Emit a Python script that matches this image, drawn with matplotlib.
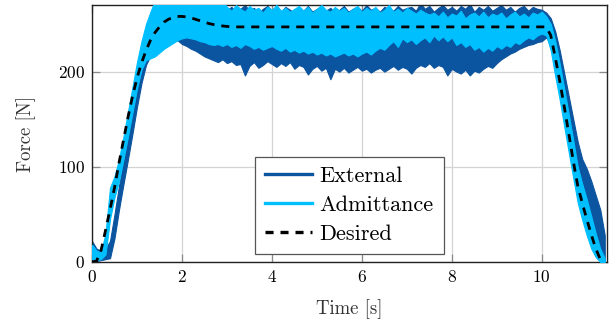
import numpy as np
import matplotlib
matplotlib.use("Agg")
import matplotlib.pyplot as plt
from matplotlib.lines import Line2D

plt.rcParams['font.family'] = 'serif'
plt.rcParams['font.serif'] = ['cmr10']
plt.rcParams['mathtext.fontset'] = 'cm'
plt.rcParams['axes.formatter.use_mathtext'] = True
plt.rcParams['lines.scale_dashes'] = False

# time grid (s), 0.0 .. 11.4 step 0.1
t = np.round(np.arange(0, 115) * 0.1, 2)

desired = [0, 1, 12, 33, 55, 78, 104, 128, 152, 174,
           193, 209, 222, 233, 241, 247, 252, 255, 257, 258,
           258, 257.5, 256.5, 255, 253.5, 252, 250.5, 249.5, 248.5, 248,
           247.5] + [247] * 71 + [238, 215, 190, 163, 135, 106, 80, 62, 45, 29, 14, 3, 0]

ext_lo = [4, 1, 2, 3, 4, 25, 55, 82, 108, 135,
          163, 188, 207, 217, 222, 226, 229, 231, 232, 233,
          229, 227, 224, 222, 219, 216, 214, 212, 210, 213,
          209, 211, 207, 208, 196, 206, 210, 204, 207, 211,
          208, 205, 209, 206, 210, 203, 207, 205, 197, 203,
          206, 201, 204, 192, 203, 200, 204, 199, 202, 205,
          201, 203, 199, 202, 204, 200, 203, 206, 202, 205,
          203, 198, 204, 207, 205, 209, 204, 207, 205, 196,
          203, 200, 198, 202, 196, 201, 199, 203, 206, 204,
          209, 213, 216, 219, 221, 224, 226, 228, 229, 231,
          232, 236, 228, 205, 180, 155, 128, 100, 78, 58,
          42, 28, 16, 6, 0]

ext_hi = [22, 14, 12, 14, 22, 50, 80, 106, 132, 158,
          185, 210, 230, 245, 256, 264] + [275] * 14 + \
         [265, 268, 263, 266, 270, 264, 267, 262, 266, 269,
          264, 267, 263, 268, 265, 262, 267, 264, 269, 263,
          266, 268, 264, 267, 262, 265, 269, 263, 266, 268,
          264, 270, 265, 267, 263, 268, 266, 264, 269, 265,
          267] + \
         [268, 264, 272, 266, 269, 263, 267, 270, 265, 268,
          264, 269, 266, 271, 263, 268, 265, 269, 264, 267,
          270, 265, 268, 263, 267, 269, 264, 268, 266, 265] + \
         [262, 256, 242, 222, 198, 174, 150, 126, 108, 98, 85, 70, 55, 28]

adm_lo = [3, 2, 3, 8, 45, 68, 85, 108, 132, 157,
          182, 202, 212, 214, 216, 220, 224, 227, 230, 233,
          235, 236, 235, 234, 232, 231, 229, 228, 229, 227,
          229, 226, 228, 225, 229, 227, 224, 226, 223, 225,
          227, 224, 222, 225, 221, 223, 220, 222, 219, 221,
          218, 220, 217, 219, 216, 218, 220, 217, 219, 216,
          219, 221, 218, 222, 225, 223, 228, 232, 226, 235,
          231, 234, 229, 233, 236, 231, 238, 233, 237, 232,
          236, 228, 231, 226, 229, 223, 226, 221, 225, 222,
          227, 224, 228, 226, 231, 229, 233, 236, 234, 238,
          240, 238, 222, 195, 170, 142, 115, 88, 62, 44,
          28, 14, 5, 0, 0]

adm_hi = [18, 12, 10, 30, 78, 90, 108, 132, 158, 184,
          210, 232, 250, 263] + [275] * 16 + \
         [268, 264, 270, 266, 263, 269, 265, 267, 262, 268,
          265, 270, 264, 267, 263, 266, 269, 264, 268, 262,
          266, 270, 265, 263, 268, 264, 267, 262, 266, 269,
          263, 267, 264, 268, 262, 265, 270, 263, 266, 262,
          267, 264, 261, 265, 262, 260] + \
         [262, 258, 263, 257, 261, 259, 264, 256, 260, 262,
          258, 263, 257, 261, 259, 262, 256, 260, 263, 258,
          261, 257, 262, 260, 263] + \
         [258, 250, 232, 208, 182, 155, 128, 100, 82, 66, 48, 30, 14, 4]

series_names = ["External", "Admittance", "Desired"]
x_ticks = [0, 2, 4, 6, 8, 10]
y_ticks = [0, 100, 200]

c_ext = '#0b549f'
c_adm = '#00bfff'

fig = plt.figure(figsize=(6.13, 3.26), dpi=100)
ax = fig.add_axes([92/613, 64/326, 515/613, 257/326])

ax.fill_between(t, ext_lo, ext_hi, color=c_ext, lw=0.8, edgecolor=c_ext, zorder=2)
ax.fill_between(t, adm_lo, adm_hi, color=c_adm, lw=0.8, edgecolor=c_adm, zorder=3)
ax.plot(t, desired, color='black', lw=2.0, dashes=(5.8, 5.0), zorder=4)

ax.set_xlim(0, 11.45)
ax.set_ylim(0, 270)
ax.set_xticks(x_ticks)
ax.set_yticks(y_ticks)
ax.grid(True, color='#d4d4d4', lw=0.9, zorder=0)
ax.set_axisbelow(True)
ax.tick_params(direction='in', length=6, width=0.9, color='#8a8a8a',
               top=True, right=True, labelsize=12.5, pad=5)
for s in ax.spines.values():
    s.set_linewidth(1.0)
    s.set_color('#222222')

ax.set_xlabel('Time [s]', fontsize=13.5, color='#333333', labelpad=10)
ax.set_ylabel('Force [N]', fontsize=13.5, color='#333333', labelpad=16)

handles = [Line2D([], [], color=c_ext, lw=2.4),
           Line2D([], [], color=c_adm, lw=2.4),
           Line2D([], [], color='black', lw=2.4, dashes=(5.8, 5.0))]
leg = ax.legend(handles, series_names, loc='lower center', bbox_to_anchor=(0.5, 0.031),
                borderaxespad=0, fontsize=16, frameon=True, fancybox=False,
                edgecolor='#555555', framealpha=1, handlelength=2.1,
                borderpad=0.45, labelspacing=0.42, handletextpad=0.35)
leg.get_frame().set_linewidth(0.9)

fig.savefig('out.png', dpi=100)
